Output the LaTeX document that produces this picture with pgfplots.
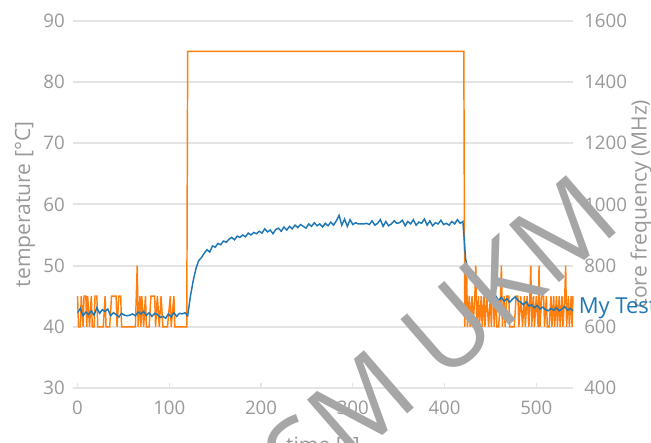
\documentclass[border=0pt]{standalone}
\usepackage{pgfplots}
\pgfplotsset{compat=1.18}
\usepackage{fontspec}
\setmainfont{Open Sans}
\definecolor{tc}{HTML}{999999}
\definecolor{gc}{HTML}{E4E4E4}
\definecolor{bl}{HTML}{1F77B4}
\definecolor{orng}{HTML}{FF7F0E}
\pgfplotsset{
  base/.style={
    scale only axis, width=375pt, height=275.5pt,
    xmin=-5, xmax=540,
    at={(0pt,0pt)}, anchor=south west,
    axis line style={draw=none},
    tick label style={font=\fontsize{14}{16}\selectfont, text=tc, inner sep=0pt},
    label style={font=\fontsize{15.8}{17}\selectfont, text=tc, inner sep=0pt},
    /pgf/number format/assume math mode=true,
    /pgf/number format/set thousands separator={},
    clip=false,
  }
}
\begin{document}
\begin{tikzpicture}
% right axis: core frequency
\begin{axis}[base,
  ymin=400, ymax=1600, ytick={400,600,...,1600},
  axis y line*=right, axis x line=none,
  ymajorgrids, grid style={gc, line width=1.5pt},
  y tick style={draw=none},
  yticklabel style={anchor=west, xshift=8.25pt},
  ylabel={core frequency (MHz)},
  ylabel style={at={(axis description cs:1.136,0.5)}, anchor=center},
]
\addplot[orng, line width=1.1pt] coordinates {
(0,700)(1,600)(3,600)(4,700)(6,600)(7,700)(9,700)(10,600)(11,700)(13,600)(15,700)(16,600)(18,600)(19,700)(21,700)(22,600)(25,600)(26,600)(28,600)(30,700)(31,600)(33,600)(35,600)(37,700)(42,700)(43,600)(45,700)(47,700)(48,600)(52,600)(58,600)(62,600)(63,600)(65,800)(66,600)(68,700)(69,600)(70,700)(72,600)(74,700)(75,600)(78,600)(80,700)(84,700)(85,600)(87,700)(89,600)(91,700)(93,600)(96,600)(98,600)(101,700)(102,600)(105,700)(106,600)(108,600)(110,600)(115,600)(119,600)
(120,1500)(421,1500)
(422,600)(424,800)(425,600)(427,700)(428,600)(430,700)(431,600)(433,700)(434,800)(435,600)(437,700)(438,600)(440,700)(441,600)(443,700)(444,600)(446,700)(448,600)(450,700)(451,600)(453,800)(454,600)(456,700)(457,600)(459,600)(461,700)(462,800)(463,600)(465,700)(466,600)(468,700)(470,700)(471,600)(473,600)(476,600)(478,700)(480,700)(481,600)(483,700)(485,600)(487,700)(488,600)(490,700)(492,600)(494,800)(495,600)(497,700)(498,600)(500,700)(502,600)(503,800)(504,600)(506,700)(508,700)(509,600)(511,700)(512,600)(514,600)(516,700)(517,600)(519,700)(520,600)(522,700)(523,600)(525,700)(526,600)(528,700)(529,600)(531,700)(532,800)(533,600)(535,700)(536,600)(538,700)(539,600)(540,700)
};
\end{axis}
% left axis: temperature
\begin{axis}[base,
  ymin=30, ymax=90, ytick={30,40,...,90},
  axis y line*=left, axis x line*=bottom,
  xtick={0,100,...,500},
  x tick style={gc, line width=1pt}, major tick length=4pt,
  y tick style={draw=none},
  xticklabel style={anchor=north, yshift=-9.75pt},
  yticklabel style={anchor=east, xshift=-6pt},
  xlabel={time [s]},
  xlabel style={at={(axis description cs:0.5,-0.1334)}, anchor=north},
  ylabel={temperature [°C]},
  ylabel style={at={(axis description cs:-0.096,0.5)}, anchor=center},
]
\addplot[bl, line width=1.1pt] coordinates {
(0,42.3)(3,43.0)(6,41.8)(9,42.4)(12,42.0)(15,42.6)(18,41.9)(21,43.1)(24,42.2)(27,42.8)(30,42.5)(33,42.9)(36,41.8)(39,42.3)(42,42.0)(45,41.6)(48,42.2)(51,41.9)(54,41.8)(57,41.9)(60,42.1)(63,41.8)(66,42.4)(69,42.1)(72,42.5)(75,41.9)(78,42.3)(81,41.7)(84,42.2)(87,42.0)(90,41.5)(93,41.7)(96,41.4)(99,42.1)(102,41.6)(105,42.3)(108,41.7)(111,42.2)(114,42.1)(117,42.3)(120,41.8)
(123,45.0)(126,47.5)(129,49.5)(132,50.8)(135,51.3)(138,52.0)(141,52.6)(144,52.2)(147,53.2)(150,53.0)(153,53.6)(156,53.4)(159,54.0)(162,53.8)(165,54.3)(168,54.6)(171,54.2)(174,54.8)(177,54.6)(180,55.0)(183,54.7)(186,55.3)(189,55.0)(192,55.4)(195,55.2)(198,55.6)(201,55.3)(204,56.0)(207,55.5)(210,55.8)(213,55.2)(216,55.9)(219,56.1)(222,55.6)(225,56.3)(228,55.8)(231,56.4)(234,56.0)(237,56.6)(240,56.2)(243,56.7)(246,56.4)(249,56.1)(252,56.8)(255,56.4)(258,57.0)(261,56.5)(264,56.8)(267,56.3)(270,56.9)(273,56.5)(276,57.1)(279,56.6)(282,57.3)(285,58.2)(288,56.6)(291,57.6)(294,56.4)(297,57.5)(300,56.7)(303,57.0)(306,56.8)(309,56.8)(312,56.8)(315,56.9)(318,56.7)(321,57.3)(324,56.6)(327,56.9)(330,57.5)(333,56.4)(336,57.2)(339,56.5)(342,56.8)(345,57.3)(348,56.9)(351,57.0)(354,57.4)(357,56.5)(360,57.2)(363,56.8)(366,57.5)(369,56.6)(372,57.1)(375,56.9)(378,57.6)(381,56.6)(384,57.3)(387,56.5)(390,57.0)(393,56.8)(396,57.4)(399,56.7)(402,56.9)(405,56.6)(408,57.2)(411,56.8)(414,57.5)(417,56.9)(420,57.2)
(423,51.0)(426,49.0)(429,48.2)(432,47.8)(435,47.0)(438,46.2)(441,46.0)(444,45.2)(447,44.8)(450,45.3)(453,44.6)(456,45.0)(459,44.3)(462,44.8)(465,44.2)(468,44.6)(471,44.0)(474,44.5)(477,44.9)(480,44.3)(483,44.0)(486,43.6)(489,44.1)(492,43.4)(495,43.6)(498,43.1)(501,43.5)(504,42.9)(507,43.2)(510,42.8)(513,42.6)(516,43.0)(519,42.7)(522,43.1)(525,42.6)(528,42.9)(531,43.3)(534,42.7)(537,43.0)(540,42.6)
};
\node[anchor=base west, text=bl, font=\fontsize{16.5}{18}\selectfont, inner sep=0pt] at (axis cs:546,42.2) {My Test};
\end{axis}
\node[rotate=41, text=gray!70, font=\fontsize{80}{84}\selectfont, inner sep=0pt] at (275pt,39pt) {SM UKM};
\pgfresetboundingbox
\path[use as bounding box] (-54.75pt,-41.25pt) rectangle (433.5pt,291pt);
\end{tikzpicture}
\end{document}
